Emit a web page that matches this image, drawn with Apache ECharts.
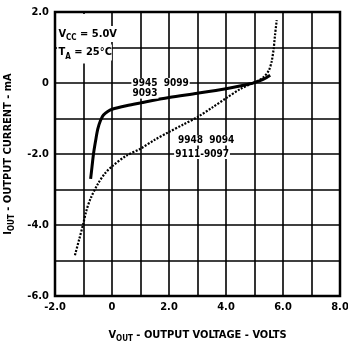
<!DOCTYPE html>
<html><head><meta charset="utf-8">
<script src="https://cdn.jsdelivr.net/npm/echarts@6/dist/echarts.min.js"></script>
<style>html,body{margin:0;padding:0;background:#fff}#c{width:348px;height:346px}</style>
</head><body><div id="c"></div>
<script>
// Solid curve: 9945, 9099, 9093
const solidV = [-0.75, -0.70, -0.65, -0.58, -0.50, -0.40, -0.30, -0.15, 0.00, 0.50, 1.00, 2.00, 3.00, 4.00, 4.80, 5.00, 5.30, 5.55];
const solidI = [-2.70, -2.35, -2.00, -1.65, -1.30, -1.05, -0.90, -0.80, -0.74, -0.64, -0.56, -0.41, -0.29, -0.16, -0.03, 0.01, 0.10, 0.22];
// Dotted curve: 9948, 9094, 9111-9097
const dottedV = [-1.30, -1.15, -1.02, -0.90, -0.75, -0.50, -0.25, 0.00, 0.50, 1.00, 1.50, 2.00, 2.50, 3.00, 3.50, 4.00, 4.50, 5.00, 5.30, 5.50, 5.60, 5.67, 5.72, 5.78];
const dottedI = [-4.85, -4.40, -4.00, -3.60, -3.25, -2.85, -2.55, -2.35, -2.05, -1.85, -1.60, -1.38, -1.17, -0.96, -0.70, -0.43, -0.17, 0.02, 0.15, 0.35, 0.60, 0.95, 1.35, 1.77];
// Tick labels
const xTickValues = [-2, 0, 2, 4, 6, 8];
const xTickLabels = ['-2.0', '0', '2.0', '4.0', '6.0', '8.0'];
const yTickValues = [-6, -4, -2, 0, 2];
const yTickLabels = ['-6.0', '-4.0', '-2.0', '0', '2.0'];
// Texts
const conditionTexts = ['{n|V}{s|CC}{n| = 5.0V}', '{n|T}{s|A}{n| = 25°C}'];
const solidLabels = ['9945  9099', '9093'];
const dottedLabels = ['9948  9094', '9111-9097'];

const FONT = '"Liberation Sans Narrow", "DejaVu Sans Condensed", "Liberation Sans", sans-serif';
const chart = echarts.init(document.getElementById('c'), null, {renderer: 'canvas'});
const zip = (a, b) => a.map((v, i) => [v, b[i]]);
const fmt = (vals, labels) => v => { const i = vals.indexOf(Math.round(v * 1000) / 1000); return i >= 0 ? labels[i] : ''; };
const rich = {
  n: {fontFamily: FONT, fontWeight: 'bold', fontSize: 11, color: '#000', lineHeight: 16, verticalAlign: 'middle'},
  s: {fontFamily: FONT, fontWeight: 'bold', fontSize: 8, color: '#000', lineHeight: 16, verticalAlign: 'bottom'}
};
chart.setOption({
  animation: false,
  backgroundColor: '#fff',
  grid: {left: 55, right: 8, top: 12, bottom: 50, containLabel: false, outerBoundsMode: 'none',
         show: true, borderColor: '#000', borderWidth: 2.5, backgroundColor: 'transparent'},
  xAxis: {
    type: 'value', min: -2, max: 8, interval: 2,
    axisLine: {show: false}, axisTick: {show: false},
    splitLine: {show: true, lineStyle: {color: '#000', width: 1.6}},
    minorTick: {show: false, splitNumber: 2},
    minorSplitLine: {show: true, lineStyle: {color: '#000', width: 1.6}},
    axisLabel: {formatter: fmt(xTickValues, xTickLabels), fontFamily: FONT, fontWeight: 'bold', fontSize: 11, color: '#000', margin: 6},
    name: '{n|V}{s|OUT}{n| - OUTPUT VOLTAGE - VOLTS}', nameLocation: 'middle', nameGap: 31,
    nameTextStyle: {rich: rich}
  },
  yAxis: {
    type: 'value', min: -6, max: 2, interval: 2,
    axisLine: {show: false}, axisTick: {show: false},
    splitLine: {show: true, lineStyle: {color: '#000', width: 1.6}},
    minorTick: {show: false, splitNumber: 2},
    minorSplitLine: {show: true, lineStyle: {color: '#000', width: 1.6}},
    axisLabel: {formatter: fmt(yTickValues, yTickLabels), fontFamily: FONT, fontWeight: 'bold', fontSize: 11, color: '#000', margin: 6},
    name: '{n|I}{s|OUT}{n| - OUTPUT CURRENT - mA}', nameLocation: 'middle', nameGap: 39, nameRotate: 90,
    nameTextStyle: {rich: rich}
  },
  series: [
    {type: 'line', data: zip(solidV, solidI), smooth: 0.3, symbol: 'none', lineStyle: {color: '#000', width: 3}, z: 3},
    {type: 'line', data: zip(dottedV, dottedI), smooth: 0.3, symbol: 'none', lineStyle: {color: '#000', width: 2.2, type: [2, 1.5]}, z: 3}
  ]
});

const P = (x, y) => chart.convertToPixel({gridIndex: 0}, [x, y]);
const textEl = (anchor, text, useRich, bgPad) => {
  const p = P(anchor[0], anchor[1]);
  return {
    type: 'text', x: p[0], y: p[1], z: 10,
    style: Object.assign({
      text: text, fill: '#000', font: 'bold 10px ' + FONT, align: 'left', verticalAlign: 'middle',
      backgroundColor: '#fff', padding: bgPad || [0, 1, 0, 1]
    }, useRich ? {rich: {
      n: {fontFamily: FONT, fontWeight: 'bold', fontSize: 11, fill: '#000', lineHeight: 16, verticalAlign: 'middle'},
      s: {fontFamily: FONT, fontWeight: 'bold', fontSize: 8, fill: '#000', lineHeight: 16, verticalAlign: 'bottom'}
    }} : {})
  };
};
const P0 = P(-2, 2), P1 = P(-0.05, 0.55);
chart.setOption({graphic: [
  {type: 'rect', z: 9, shape: {x: P0[0] + 2, y: P0[1] + 2, width: P1[0] - P0[0] - 2, height: P1[1] - P0[1] - 2}, style: {fill: '#fff'}},
  textEl([-1.88, 1.38], conditionTexts[0], true, [0, 0, 0, 0]),
  textEl([-1.88, 0.86], conditionTexts[1], true, [0, 0, 0, 0]),
  textEl([0.68, 0.0], solidLabels[0]),
  textEl([0.68, -0.30], solidLabels[1]),
  textEl([2.28, -1.62], dottedLabels[0]),
  textEl([2.18, -2.0], dottedLabels[1])
]});
</script></body></html>
